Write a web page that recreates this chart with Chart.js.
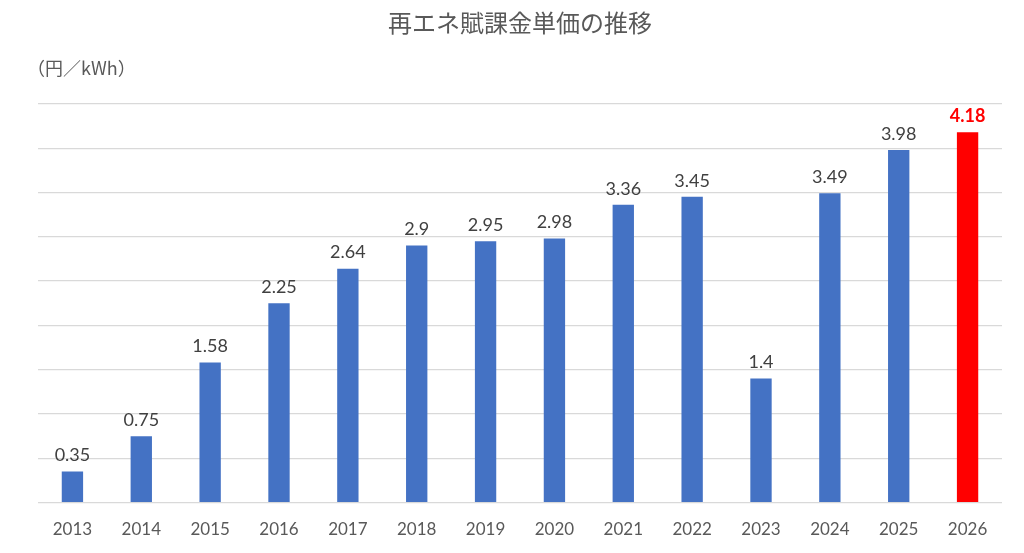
<!DOCTYPE html>
<html lang="ja">
<head>
<meta charset="utf-8">
<title>再エネ賦課金単価の推移</title>
<script src="https://cdn.jsdelivr.net/npm/chart.js@4.4.1/dist/chart.umd.min.js"></script>
<style>
  html, body { margin: 0; padding: 0; background: #fff; }
  #wrap { width: 1024px; height: 553px; position: relative; }
</style>
</head>
<body>
<div id="wrap"><canvas id="levyChart"></canvas></div>
<script>
// data
const years = ["2013", "2014", "2015", "2016", "2017", "2018", "2019",
  "2020", "2021", "2022", "2023", "2024", "2025", "2026"];
const levyRates = [0.35, 0.75, 1.58, 2.25, 2.64, 2.9, 2.95,
  2.98, 3.36, 3.45, 1.4, 3.49, 3.98, 4.18];
const highlightYear = "2026";

const BLUE = "#4472C4";
const RED = "#FF0000";
const barColors = years.map((y) => (y === highlightYear ? RED : BLUE));

// value labels above bars + unit label
const labelPlugin = {
  id: "valueLabels",
  afterDatasetsDraw(chart) {
    const ctx = chart.ctx;
    const meta = chart.getDatasetMeta(0);
    ctx.save();
    ctx.textAlign = "center";
    ctx.textBaseline = "bottom";
    meta.data.forEach((bar, i) => {
      const isHi = years[i] === highlightYear;
      ctx.font = (isHi ? "bold " : "") + "18px Lato, 'Open Sans', sans-serif";
      ctx.fillStyle = isHi ? RED : "#404040";
      ctx.fillText(String(levyRates[i]), bar.x, bar.y - 7);
    });

    // unit
    ctx.textAlign = "left";
    ctx.textBaseline = "middle";
    ctx.font = "18px 'Noto Sans CJK JP', sans-serif";
    ctx.fillStyle = "#595959";
    ctx.fillText("（円／kWh）", 27, 68);
    ctx.restore();
  },
};

const levyChart = new Chart(document.getElementById("levyChart"), {
  type: "bar",
  data: {
    labels: years,
    datasets: [
      {
        data: levyRates,
        backgroundColor: barColors,
        borderWidth: 0,
        categoryPercentage: 1,
        barPercentage: 0.31,
      },
    ],
  },
  options: {
    responsive: true,
    maintainAspectRatio: false,
    animation: false,
    layout: {
      padding: { left: 38, right: 22, top: 0, bottom: 4 },
    },
    plugins: {
      legend: { display: false },
      tooltip: { enabled: false },
      title: {
        display: true,
        text: "再エネ賦課金単価の推移",
        color: "#595959",
        font: { family: "'Noto Sans CJK JP', sans-serif", size: 24, weight: "normal" },
        padding: { top: 8, bottom: 67 },
      },
    },
    scales: {
      y: {
        min: 0,
        max: 4.5,
        ticks: { display: false, stepSize: 0.5 },
        border: { display: false },
        grid: { color: "#d9d9d9", lineWidth: 1.2, drawTicks: false },
      },
      x: {
        ticks: {
          color: "#595959",
          font: { family: "Lato, 'Open Sans', sans-serif", size: 17 },
          padding: 9,
        },
        border: { display: false },
        grid: { display: false },
      },
    },
  },
  plugins: [labelPlugin],
});
</script>
</body>
</html>
